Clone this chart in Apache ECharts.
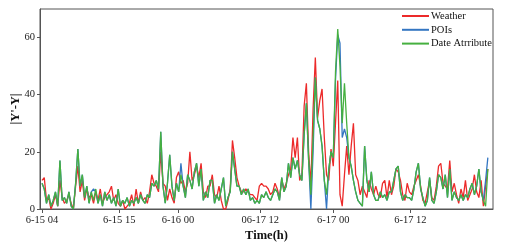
<!DOCTYPE html>
<html><head><meta charset="utf-8">
<script src="https://cdn.jsdelivr.net/npm/echarts@6/dist/echarts.min.js"></script>
<style>html,body{margin:0;padding:0;background:#fff}#c{width:506px;height:245px}</style>
</head><body><div id="c"></div>
<script>
// Tick labels (x positions are sample indices)
const xTickPos = [0, 34.5, 60.7, 97.4, 130, 164.4];
const xTickLabels = ['6-15 04', '6-15 15', '6-16 00', '06-17 12', '6-17 00', '6-17 12'];
const yTicks = [0, 20, 40, 60];

const weather = [10,11,3,4,0,2,5,1,10,4,2,3,5,2,0,8,15,6,10,3,7,4,5,2,6,3,7,2,4,5,6,8,3,5,2,1,3,0,1,2,5,1,7,2,6,3,4,2,6,12,
9,8,6,20,9,8,3,7,4,2,11,13,9,10,6,9,20,10,12,15,11,16,6,4,8,8,12,5,4,8,3,0,0,3,7,24,18,11,8,6,
6,7,6,5,5,4,3,8,9,8,8,7,5,6,9,7,4,10,7,9,12,14,25,18,25,10,12,36,44,20,8,35,53,32,38,42,25,12,10,21,
15,30,45,5,1,12,22,12,22,30,12,10,5,8,6,4,10,7,5,8,5,4,9,10,4,10,5,8,14,13,10,5,3,9,6,5,8,10,12,8,
3,2,6,10,4,3,8,15,16,9,8,7,17,6,9,5,2,7,4,10,3,5,7,12,6,4,10,1,8,14];

const pois = [9,7,2,5,1,3,6,1,17,3,4,2,6,1,0,9,21,8,12,4,8,2,6,7,6,2,5,1,6,3,5,2,4,1,7,1,3,2,4,1,3,2,4,2,5,3,2,5,4,9,
8,10,7,27,8,2,9,19,8,3,9,6,16,8,4,12,10,7,13,16,8,14,3,6,4,10,10,2,5,3,7,11,1,4,6,20,14,8,8,5,
7,5,7,3,4,2,3,2,5,4,6,4,3,5,7,6,3,11,6,8,16,11,18,14,17,12,10,26,37,17,0,20,46,31,28,22,10,0,14,20,
18,45,61,58,25,28,25,18,15,10,6,3,2,1,22,10,6,13,5,3,3,6,4,5,3,6,6,10,14,15,6,3,5,4,4,3,7,13,16,7,
4,1,3,11,3,2,6,12,11,7,12,4,14,3,6,4,3,5,3,5,4,7,9,5,8,14,6,3,10,18];

const dateAttr = [9,7,2,5,1,3,6,1,17,3,4,2,6,1,0,9,21,8,12,4,8,2,6,3,7,2,5,1,6,3,5,2,4,1,7,1,3,2,4,1,3,2,4,2,5,3,2,5,4,9,
8,10,7,27,8,2,9,19,8,3,9,6,12,8,4,12,10,7,13,16,8,14,3,6,4,10,10,2,5,3,7,11,1,4,6,20,14,8,8,5,
7,5,7,3,4,2,3,2,5,4,6,4,3,5,7,6,3,11,6,8,16,11,18,14,17,12,10,26,37,17,5,25,46,31,28,22,10,5,14,20,
18,48,63,50,30,44,30,18,15,10,6,3,2,1,22,10,6,13,5,3,3,6,4,5,3,6,6,10,14,15,6,3,5,4,4,3,7,13,16,7,
4,1,3,11,3,2,6,12,11,7,12,4,14,3,6,4,3,5,3,5,4,7,9,5,8,14,6,3,1,14];

const seriesNames = ['Weather', 'POIs', 'Date Atrribute'];
const seriesColors = ['#ec2a2a', '#3476c2', '#46b040'];
const seriesData = [weather, pois, dateAttr];

const font = 'Liberation Serif';
const chart = echarts.init(document.getElementById('c'));
chart.setOption({
  animation: false,
  grid: { left: 40, top: 9, right: 13, bottom: 36, outerBoundsMode: 'none', containLabel: false,
          show: true, borderColor: '#555', borderWidth: 1, backgroundColor: 'transparent' },
  legend: {
    orient: 'vertical', left: 402, top: 10, padding: 0, itemWidth: 27, itemHeight: 2, itemGap: 1.8,
    icon: 'rect',
    textStyle: { fontFamily: font, fontSize: 10.5, color: '#111', lineHeight: 12, padding: [0, 0, 0, -3] },
    data: seriesNames
  },
  xAxis: {
    type: 'value', min: -0.9, max: 201.3,
    name: 'Time(h)', nameLocation: 'middle', nameGap: 20, nameMoveOverlap: false,
    nameTextStyle: { fontFamily: font, fontWeight: 'bold', fontSize: 12.5, color: '#111' },
    axisLine: { onZero: false, lineStyle: { color: '#555', width: 1 } },
    axisTick: { show: true, length: 4, customValues: xTickPos, lineStyle: { color: '#555' } },
    axisLabel: {
      customValues: xTickPos, margin: 6,
      fontFamily: font, fontSize: 10.5, color: '#222',
      formatter: function (v) { const k = xTickPos.indexOf(v); return k >= 0 ? xTickLabels[k] : ''; }
    },
    splitLine: { show: false }
  },
  yAxis: {
    type: 'value', min: 0, max: 70,
    name: "|Y'-Y|", nameLocation: 'middle', nameGap: 18, nameMoveOverlap: false,
    nameTextStyle: { fontFamily: font, fontWeight: 'bold', fontSize: 12.5, color: '#111' },
    axisLine: { show: true, onZero: false, lineStyle: { color: '#555', width: 1 } },
    axisTick: { show: true, length: 3, customValues: yTicks, lineStyle: { color: '#555' } },
    axisLabel: { customValues: yTicks, margin: 5, fontFamily: font, fontSize: 10.5, color: '#222' },
    splitLine: { show: false }
  },
  series: seriesNames.map((n, k) => ({
    name: n, type: 'line', symbol: 'none', smooth: false,
    data: seriesData[k].map((v, i) => [i, v]),
    lineStyle: { color: seriesColors[k], width: 1.3 },
    itemStyle: { color: seriesColors[k] }
  }))
});
</script></body></html>
